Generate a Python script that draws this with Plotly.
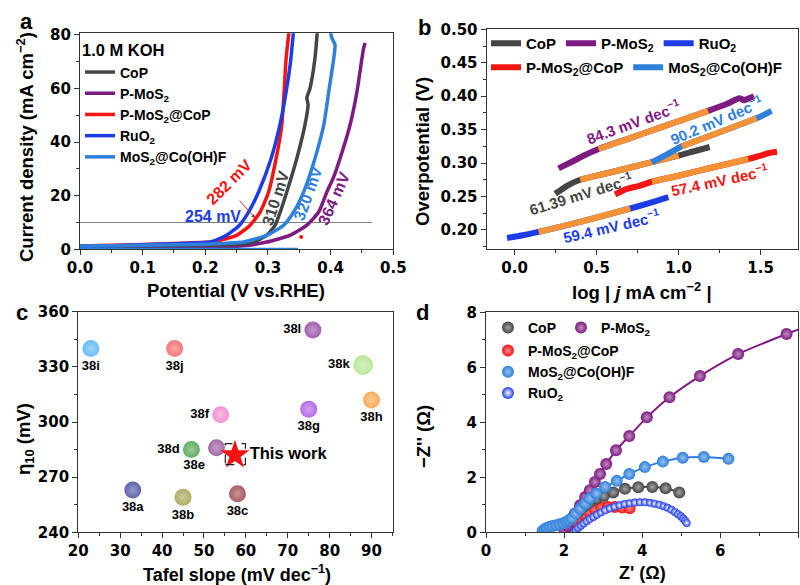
import numpy as np
import plotly.graph_objects as go

W, H = 800, 585
FONT = "Arial, Liberation Sans, sans-serif"
TICKFONT = "DejaVu Sans, Arial, sans-serif"

# ---------------- colours
C_COP = "#454545"
C_PMOS = "#7D1B80"
C_PCOP = "#F51414"
C_RUO = "#1E3CE6"
C_MOSF = "#2E80DA"
C_FIT = "#F39236"

# ---------------- names
N_COP = "CoP"
N_PMOS = "P-MoS<sub>2</sub>"
N_PCOP = "P-MoS<sub>2</sub>@CoP"
N_RUO = "RuO<sub>2</sub>"
N_MOSF = "MoS<sub>2</sub>@Co(OH)F"

# ---------------- panel a : LSV (potential V, current density mA cm-2)
a_cop_v = [0.0, 0.05, 0.10, 0.15, 0.20, 0.245, 0.277, 0.298, 0.3115, 0.3195, 0.330, 0.346, 0.359, 0.364, 0.362, 0.367, 0.375, 0.379]
a_cop_j = [1.1, 1.2, 1.3, 1.4, 1.5, 1.8, 2.7, 5.2, 9.0, 13.9, 21.4, 33.9, 46.4, 54.0, 56.5, 60.0, 71.3, 82.0]
a_pmos_v = [0.0, 0.05, 0.10, 0.15, 0.20, 0.26, 0.298, 0.335, 0.362, 0.381, 0.394, 0.399, 0.404, 0.415, 0.431, 0.442, 0.450, 0.4526, 0.455]
a_pmos_j = [0.4, 0.4, 0.5, 0.6, 0.7, 1.3, 2.7, 5.2, 9.0, 13.9, 21.4, 24.0, 26.5, 33.9, 46.4, 58.8, 71.3, 75.0, 77.0]
a_pcop_v = [0.0, 0.05, 0.10, 0.15, 0.20, 0.213, 0.250, 0.2716, 0.2875, 0.301, 0.313, 0.322, 0.326, 0.329, 0.334]
a_pcop_j = [1.2, 1.5, 1.8, 2.2, 2.6, 2.8, 5.2, 9.0, 13.9, 21.4, 33.9, 46.4, 60.0, 71.3, 82.0]
a_ruo_v = [0.0, 0.05, 0.10, 0.15, 0.20, 0.208, 0.234, 0.2545, 0.269, 0.285, 0.305, 0.319, 0.329, 0.336, 0.341]
a_ruo_j = [1.0, 1.3, 1.7, 2.1, 2.5, 2.7, 5.2, 9.0, 13.9, 21.4, 33.9, 46.4, 58.8, 70.0, 82.0]
a_mosf_v = [0.0, 0.05, 0.10, 0.15, 0.20, 0.23, 0.261, 0.298, 0.325, 0.341, 0.357, 0.375, 0.389, 0.397, 0.405, 0.407, 0.402, 0.399]
a_mosf_j = [1.2, 1.3, 1.5, 1.7, 1.9, 2.2, 2.7, 5.2, 9.0, 13.9, 21.4, 33.9, 46.4, 58.8, 71.3, 76.3, 78.8, 82.0]
a_base_v = [0.0, 0.348]          # light-blue baseline trace at 0 mA cm-2
a_base_j = [0.0, 0.0]
a_dot_v = [0.353]
a_dot_j = [4.6]
a_ref_v = [0.0, 0.466]           # 10 mA cm-2 reference line
a_ref_j = [10.0, 10.0]
a_eta_labels = ["254 mV", "282 mV", "310 mV", "320 mV", "364 mV"]

# ---------------- panel b : Tafel (log j, overpotential V)
b_cop_x = [0.248, 0.32, 0.40, 0.55, 0.70, 0.85, 1.00, 1.10, 1.19]
b_cop_y = [0.254, 0.266, 0.275, 0.284, 0.293, 0.302, 0.311, 0.318, 0.324]
b_pmos_x = [0.268, 0.35, 0.43, 0.512, 0.70, 0.90, 1.18, 1.30, 1.37, 1.40, 1.43, 1.46]
b_pmos_y = [0.292, 0.302, 0.312, 0.321, 0.337, 0.354, 0.378, 0.389, 0.397, 0.394, 0.397, 0.400]
b_ruo_x = [-0.046, 0.05, 0.146, 0.40, 0.705, 0.82, 0.938]
b_ruo_y = [0.188, 0.192, 0.197, 0.212, 0.232, 0.240, 0.249]
b_pcop_x = [0.613, 0.68, 0.76, 0.837, 1.00, 1.20, 1.425, 1.50, 1.55, 1.60]
b_pcop_y = [0.253, 0.261, 0.266, 0.272, 0.281, 0.293, 0.306, 0.311, 0.315, 0.317]
b_mosf_x = [0.836, 0.93, 1.02, 1.25, 1.475, 1.52, 1.567]
b_mosf_y = [0.301, 0.313, 0.325, 0.346, 0.367, 0.372, 0.378]
b_fit_lo = {"cop": 0.40, "pmos": 0.512, "ruo": 0.146, "pcop": 0.837, "mosf": 1.02}
b_fit_hi = {"cop": 1.00, "pmos": 1.18, "ruo": 0.705, "pcop": 1.425, "mosf": 1.475}
b_slopes = ["61.39", "84.3", "59.4", "57.4", "90.2"]

# ---------------- panel c : comparison
c_labels = ["38a", "38b", "38c", "38d", "38e", "38f", "38g", "38h", "38i", "38j", "38k", "38l"]
c_tafel = [33, 45, 58, 47, 53, 54, 75, 90, 23, 43, 88, 76]
c_eta = [263, 259, 261, 285, 286, 304, 307, 312, 340, 340, 331, 350]
c_colors = ["#1B1F86", "#8C8A24", "#84161A", "#1E8C22", "#7E2A82", "#F064C4",
            "#9530E0", "#F58A14", "#2AA2F0", "#F0403E", "#9FE070", "#7A1D8C"]
c_textpos = ["bottom center", "bottom center", "bottom center", "middle left", "bottom left",
             "middle left", "bottom center", "bottom center", "bottom center", "bottom center",
             "middle left", "middle left"]
c_this_tafel = [57.4]
c_this_eta = [282]

# ---------------- panel d : Nyquist (Z', -Z'')
d_cop_re = [2.02, 2.12, 2.24, 2.37, 2.51, 2.66, 2.83, 3.02, 3.26, 3.56, 3.90, 4.26, 4.60, 4.95]
d_cop_im = [0.22, 0.40, 0.58, 0.76, 0.93, 1.08, 1.22, 1.32, 1.45, 1.58, 1.64, 1.65, 1.60, 1.45]
d_pmos_re = [2.00, 2.07, 2.15, 2.28, 2.41, 2.54, 2.66, 2.79, 2.92, 3.08, 3.33, 3.67, 4.12, 4.70, 5.48, 6.46, 7.70, 9.10]
d_pmos_im = [0.12, 0.25, 0.44, 0.68, 0.98, 1.28, 1.53, 1.83, 2.12, 2.48, 2.98, 3.50, 4.18, 4.91, 5.68, 6.48, 7.21, 7.95]
d_pcop_re = [2.05, 2.14, 2.25, 2.37, 2.50, 2.64, 2.79, 2.95, 3.12, 3.30, 3.49, 3.68]
d_pcop_im = [0.10, 0.25, 0.40, 0.54, 0.66, 0.76, 0.84, 0.89, 0.92, 0.92, 0.90, 0.87]
d_mosf_re = [1.45, 1.50, 1.56, 1.63, 1.71, 1.80, 1.89, 1.98, 2.06, 2.13, 2.20, 2.30, 2.41, 2.54, 2.66,
             2.83, 3.05, 3.35, 3.67, 4.07, 4.53, 5.04, 5.58, 6.21]
d_mosf_im = [0.05, 0.11, 0.16, 0.20, 0.23, 0.26, 0.29, 0.33, 0.38, 0.44, 0.51, 0.68, 0.86, 1.04, 1.23,
             1.41, 1.65, 1.87, 2.12, 2.37, 2.57, 2.71, 2.74, 2.67]
d_ruo_re = [2.25, 2.30, 2.36, 2.43, 2.50, 2.58, 2.66, 2.75, 2.84, 2.94, 3.05, 3.17, 3.29, 3.42, 3.55, 3.68,
            3.81, 3.94, 4.07, 4.20, 4.32, 4.44, 4.55, 4.65, 4.75, 4.84, 4.92, 4.99, 5.05, 5.10, 5.14]
d_ruo_im = [0.00, 0.08, 0.16, 0.24, 0.32, 0.40, 0.48, 0.56, 0.64, 0.72, 0.80, 0.87, 0.93, 0.98, 1.03, 1.06,
            1.08, 1.09, 1.09, 1.07, 1.04, 1.00, 0.95, 0.89, 0.82, 0.74, 0.66, 0.58, 0.50, 0.42, 0.34]


def tint(hexcol, f):
    h = hexcol.lstrip("#")
    r, g, b = (int(h[i:i + 2], 16) for i in (0, 2, 4))
    r, g, b = (int(c + (255 - c) * f) for c in (r, g, b))
    return "#%02x%02x%02x" % (r, g, b)


def xdom(l, r):
    return [l / W, r / W]


def ydom(t, b):
    return [1 - b / H, 1 - t / H]


def bold(size, color="black", family=FONT):
    return dict(family=family, size=size, color=color, weight="bold")


fig = go.Figure()

# ---------- panel a traces
fig.add_trace(go.Scatter(x=a_ref_v, y=a_ref_j, mode="lines", line=dict(color="#808080", width=1),
                         showlegend=False, xaxis="x", yaxis="y", hoverinfo="skip"))
a_series = [
    (N_PMOS, a_pmos_v, a_pmos_j, C_PMOS, 2),
    (N_COP, a_cop_v, a_cop_j, C_COP, 1),
    (N_PCOP, a_pcop_v, a_pcop_j, C_PCOP, 3),
    (N_RUO, a_ruo_v, a_ruo_j, C_RUO, 4),
    (N_MOSF, a_mosf_v, a_mosf_j, C_MOSF, 5),
]
for name, vx, jy, col, rank in a_series:
    fig.add_trace(go.Scatter(x=vx, y=jy, mode="lines", name=name, legendrank=rank,
                             line=dict(color=col, width=3.5, shape="spline", smoothing=0.5),
                             xaxis="x", yaxis="y", legend="legend"))
fig.add_trace(go.Scatter(x=a_base_v, y=a_base_j, mode="lines", line=dict(color=C_MOSF, width=3),
                         showlegend=False, xaxis="x", yaxis="y"))
fig.add_trace(go.Scatter(x=a_dot_v, y=a_dot_j, mode="markers", marker=dict(color=C_PCOP, size=4),
                         showlegend=False, xaxis="x", yaxis="y"))

# ---------- panel b traces
b_series = [
    ("cop", N_COP, b_cop_x, b_cop_y, C_COP, "legend2", 1),
    ("pmos", N_PMOS, b_pmos_x, b_pmos_y, C_PMOS, "legend2", 2),
    ("ruo", N_RUO, b_ruo_x, b_ruo_y, C_RUO, "legend2", 3),
    ("pcop", N_PCOP, b_pcop_x, b_pcop_y, C_PCOP, "legend3", 1),
    ("mosf", N_MOSF, b_mosf_x, b_mosf_y, C_MOSF, "legend3", 2),
]
for key, name, bx, by, col, leg, rank in b_series:
    bx = np.array(bx)
    by = np.array(by)
    fig.add_trace(go.Scatter(x=bx, y=by, mode="lines", name=name, legend=leg, legendrank=rank,
                             line=dict(color=col, width=6, shape="spline", smoothing=0.6),
                             xaxis="x2", yaxis="y2"))
    m = (bx >= b_fit_lo[key] - 1e-9) & (bx <= b_fit_hi[key] + 1e-9)
    fig.add_trace(go.Scatter(x=bx[m], y=by[m], mode="lines", showlegend=False,
                             line=dict(color=C_FIT, width=6, shape="spline", smoothing=0.6),
                             xaxis="x2", yaxis="y2"))

# ---------- panel c traces
fig.add_trace(go.Scatter(
    x=c_tafel, y=c_eta, mode="markers+text", text=c_labels, textposition=c_textpos,
    textfont=bold(13), showlegend=False, xaxis="x3", yaxis="y3",
    marker=dict(size=[17, 17, 17, 17, 17, 17, 17, 17, 17, 17, 20, 17], color=c_colors,
                gradient=dict(type="radial", color=[tint(c, 0.35) for c in c_colors]),
                line=dict(width=0))))
fig.add_trace(go.Scatter(
    x=c_this_tafel, y=c_this_eta, mode="markers+text", text=["This work"], textposition="middle right",
    textfont=bold(16.5), showlegend=False, xaxis="x3", yaxis="y3",
    marker=dict(symbol="star", size=22, color="#F21414", line=dict(width=0))))

# ---------- panel d traces
d_series = [
    (N_PCOP, d_pcop_re, d_pcop_im, C_PCOP, 12, "legend5", 1),
    (N_COP, d_cop_re, d_cop_im, C_COP, 12, "legend4", 1),
    (N_PMOS, d_pmos_re, d_pmos_im, C_PMOS, 12, "legend4", 2),
    (N_MOSF, d_mosf_re, d_mosf_im, C_MOSF, 12, "legend5", 2),
    (N_RUO, d_ruo_re, d_ruo_im, C_RUO, 8, "legend5", 3),
]
for name, zr, zi, col, sz, leg, rank in d_series:
    fig.add_trace(go.Scatter(x=zr, y=zi, mode="lines", showlegend=False,
                             line=dict(color=col, width=2, shape="spline", smoothing=0.6),
                             xaxis="x4", yaxis="y4"))
    fig.add_trace(go.Scatter(x=zr, y=zi, mode="markers", name=name, legend=leg, legendrank=rank,
                             marker=dict(size=sz, color=col, line=dict(width=0),
                                         gradient=dict(type="radial",
                                                       color="white" if sz < 10 else tint(col, 0.5))),
                             xaxis="x4", yaxis="y4"))

# ---------- axes
def axis(dom, rng, dtick, mdtick, anchor, fmt=None):
    d = dict(domain=dom, range=rng, dtick=dtick, tick0=0, anchor=anchor,
             showline=True, linecolor="#333333", linewidth=1.3, mirror=True,
             ticks="outside", ticklen=5, tickwidth=1.3, tickcolor="#333333",
             showgrid=False, zeroline=False, automargin=False, tickfont=bold(15, family=TICKFONT),
             minor=dict(dtick=mdtick, ticks="outside", ticklen=3, tickwidth=1, tickcolor="#333333",
                        showgrid=False))
    if fmt:
        d["tickformat"] = fmt
    return d


PA = (80, 393.3, 33.3, 249.3)
PB = (486.7, 798.3, 29.3, 249.3)
PC = (78.3, 393.3, 311.7, 532.3)
PD = (486.0, 798.3, 312.3, 532.3)

layout = dict(
    width=W, height=H, margin=dict(l=0, r=0, t=0, b=0),
    paper_bgcolor="white", plot_bgcolor="white",
    font=dict(family=FONT, size=14, color="black", weight="bold"),
    xaxis=axis(xdom(PA[0], PA[1]), [0, 0.5], 0.1, 0.05, "y", ".1f"),
    yaxis=axis(ydom(PA[2], PA[3]), [0, 80.6], 20, 10, "x"),
    xaxis2=axis(xdom(PB[0], PB[1]), [-0.17, 1.73], 0.5, 0.25, "y2", ".1f"),
    yaxis2=axis(ydom(PB[2], PB[3]), [0.171, 0.5], 0.05, 0.025, "x2", ".2f"),
    xaxis3=axis(xdom(PC[0], PC[1]), [20, 95.2], 10, 5, "y3"),
    yaxis3=axis(ydom(PC[2], PC[3]), [240, 360], 30, 15, "x3"),
    xaxis4=axis(xdom(PD[0], PD[1]), [0, 8], 2, 1, "y4"),
    yaxis4=axis(ydom(PD[2], PD[3]), [0, 8], 2, 1, "x4"),
    showlegend=True,
)

leg_common = dict(bgcolor="rgba(0,0,0,0)", borderwidth=0, xanchor="left", yanchor="top",
                  itemwidth=30, tracegroupgap=0, itemclick=False, itemdoubleclick=False)
layout["legend"] = dict(leg_common, x=80 / W, y=1 - 35 / H, font=bold(14),
                        title=dict(text="1.0 M KOH", font=bold(16.5)))
layout["legend2"] = dict(leg_common, x=486 / W, y=1 - 27 / H, orientation="h", font=bold(15))
layout["legend3"] = dict(leg_common, x=486 / W, y=1 - 51 / H, orientation="h", font=bold(15))
layout["legend4"] = dict(leg_common, x=488 / W, y=1 - 312 / H, orientation="h", font=bold(14),
                         itemsizing="constant")
layout["legend5"] = dict(leg_common, x=488 / W, y=1 - 335 / H, font=bold(14), itemsizing="constant")

ann = []


def paper_text(txt, px, py, size, angle=0, color="black"):
    ann.append(dict(text=txt, x=px / W, y=1 - py / H, xref="paper", yref="paper", showarrow=False,
                    xanchor="center", yanchor="middle", textangle=angle, font=bold(size, color)))


# panel letters
paper_text("a", 26, 22, 22)
paper_text("b", 424, 27, 22)
paper_text("c", 22, 312, 22)
paper_text("d", 422, 312, 22)
# axis titles
TS = 18.5
paper_text("Potential (V vs.RHE)", 236, 290, TS)
paper_text("Current density (mA cm<sup>−2</sup>)", 25, 147, TS, -90)
paper_text("log | <i>j</i> mA cm<sup>−2</sup> |", 642, 291, TS)
paper_text("Overpotential (V)", 423, 152, TS, -90)
paper_text("Tafel slope (mV dec<sup>−1</sup>)", 237, 573, 18)
paper_text("η<sub>10</sub> (mV)", 25, 439, TS, -90)
paper_text("Z' (Ω)", 642, 573, 18)
paper_text("−Z'' (Ω)", 423, 437, TS, -90)


def data_text(txt, x, y, xr, yr, size, angle, color):
    ann.append(dict(text=txt, x=x, y=y, xref=xr, yref=yr, showarrow=False, textangle=angle,
                    xanchor="center", yanchor="middle", font=bold(size, color)))


# panel a overpotential labels
data_text(a_eta_labels[0], 0.2125, 12.3, "x", "y", 16, 0, C_RUO)
data_text(a_eta_labels[1], 0.237, 25.0, "x", "y", 16, -45, C_PCOP)
data_text(a_eta_labels[2], 0.3125, 18.9, "x", "y", 16, -72, C_COP)
data_text(a_eta_labels[3], 0.364, 20.8, "x", "y", 16, -70, C_MOSF)
data_text(a_eta_labels[4], 0.4055, 18.9, "x", "y", 16, -66, C_PMOS)
ann.append(dict(x=0.2796, y=11.6, xref="x", yref="y", ax=-17, ay=-19, axref="pixel", ayref="pixel",
                showarrow=True, arrowhead=2, arrowsize=0.8, arrowwidth=1, arrowcolor="#B03030", text=""))

# panel b slope labels
dec = " mV dec<sup>−1</sup>"
data_text(b_slopes[1] + dec, 0.723, 0.3619, "x2", "y2", 15, -20, C_PMOS)
data_text(b_slopes[4] + dec, 1.233, 0.3644, "x2", "y2", 15, -23, C_MOSF)
data_text(b_slopes[0] + dec, 0.400, 0.2549, "x2", "y2", 15, -17, C_COP)
data_text(b_slopes[3] + dec, 1.247, 0.2747, "x2", "y2", 15, -12, C_PCOP)
data_text(b_slopes[2] + dec, 0.593, 0.2060, "x2", "y2", 15, -13, C_RUO)

layout["annotations"] = ann

# dashed box around "This work"
layout["shapes"] = [dict(type="rect", xref="x3", yref="y3",
                         x0=c_this_tafel[0] - 2.3, x1=c_this_tafel[0] + 2.5,
                         y0=c_this_eta[0] - 5.2, y1=c_this_eta[0] + 6.2,
                         line=dict(color="#222222", width=1.2, dash="dash"))]

fig.update_layout(**layout)
fig.write_html("out.html", config={"displayModeBar": False},
               post_script="document.body.style.margin='0px';")
